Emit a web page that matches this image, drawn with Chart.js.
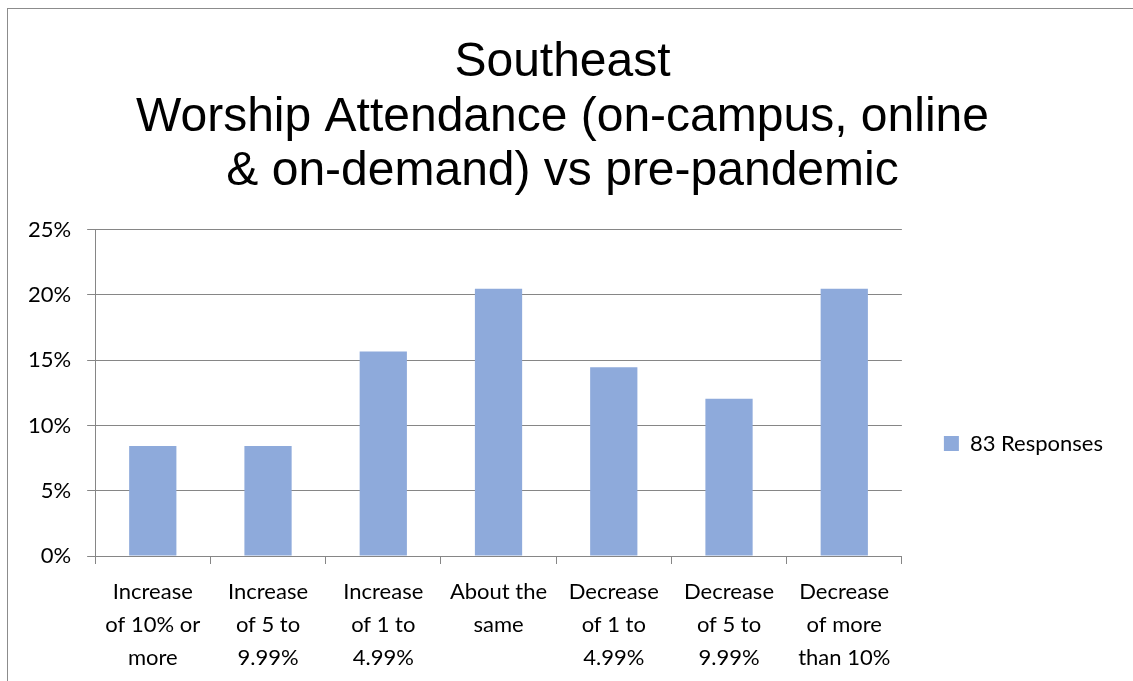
<!DOCTYPE html>
<html>
<head>
<meta charset="utf-8">
<script src="https://cdn.jsdelivr.net/npm/chart.js@4/dist/chart.umd.min.js"></script>
<style>
  body { margin: 0; background: #fff; }
  #wrap { position: relative; width: 1133px; height: 681px; overflow: hidden; }
  #frame { position: absolute; left: 7px; top: 8px; width: 1200px; height: 800px;
           border-left: 1px solid #8c8c8c; border-top: 1px solid #8c8c8c; pointer-events: none; }
</style>
</head>
<body>
<div id="wrap">
  <canvas id="grafico" width="1133" height="681"></canvas>
  <div id="frame"></div>
</div>
<script>
// Dados do gráfico
const categorias = [
  ["Increase", "of 10% or", "more"],
  ["Increase", "of 5 to", "9.99%"],
  ["Increase", "of 1 to", "4.99%"],
  ["About the", "same"],
  ["Decrease", "of 1 to", "4.99%"],
  ["Decrease", "of 5 to", "9.99%"],
  ["Decrease", "of more", "than 10%"]
];
const respostas = [0.0843, 0.0843, 0.1566, 0.2048, 0.1446, 0.1205, 0.2048];
const serieNome = "83 Responses";
const titulo = ["Southeast", "Worship Attendance (on-campus, online", "& on-demand) vs pre-pandemic"];

const fonteEixo = { family: "Lato, 'Open Sans', sans-serif", size: 22, lineHeight: 1.5 };

new Chart(document.getElementById("grafico"), {
  type: "bar",
  data: {
    labels: categorias,
    datasets: [{
      label: serieNome,
      data: respostas,
      backgroundColor: "#8eaadb",
      barPercentage: 0.41,
      categoryPercentage: 1
    }]
  },
  options: {
    responsive: false,
    animation: false,
    layout: { padding: { left: 12, right: 20, top: 36, bottom: -4 } },
    plugins: {
      title: {
        display: true,
        text: titulo,
        color: "#000",
        font: { family: "'Liberation Sans', Arial, sans-serif", size: 48, weight: "normal", lineHeight: 1.13 },
        padding: { top: 0, bottom: 31 }
      },
      legend: {
        position: "right",
        // título invisível só para empurrar a legenda para baixo
        title: { display: true, text: " ", color: "rgba(0,0,0,0)", font: { size: 10 }, padding: { top: 154, bottom: 0 } },
        labels: {
          color: "#000",
          font: { family: "Lato, 'Open Sans', sans-serif", size: 22 },
          boxWidth: 15,
          boxHeight: 15,
          padding: 42
        }
      },
      tooltip: { enabled: false }
    },
    scales: {
      x: {
        grid: { drawOnChartArea: false, color: "#868686", tickLength: 8, offset: true },
        border: { color: "#868686" },
        ticks: { color: "#000", font: fonteEixo, maxRotation: 0, autoSkip: false, padding: 11 }
      },
      y: {
        min: 0,
        max: 0.25,
        grid: { color: "#868686", tickLength: 8 },
        border: { color: "#868686" },
        ticks: {
          stepSize: 0.05,
          color: "#000",
          font: fonteEixo,
          padding: 16,
          callback: v => Math.round(v * 100) + "%"
        }
      }
    }
  }
});
</script>
</body>
</html>
